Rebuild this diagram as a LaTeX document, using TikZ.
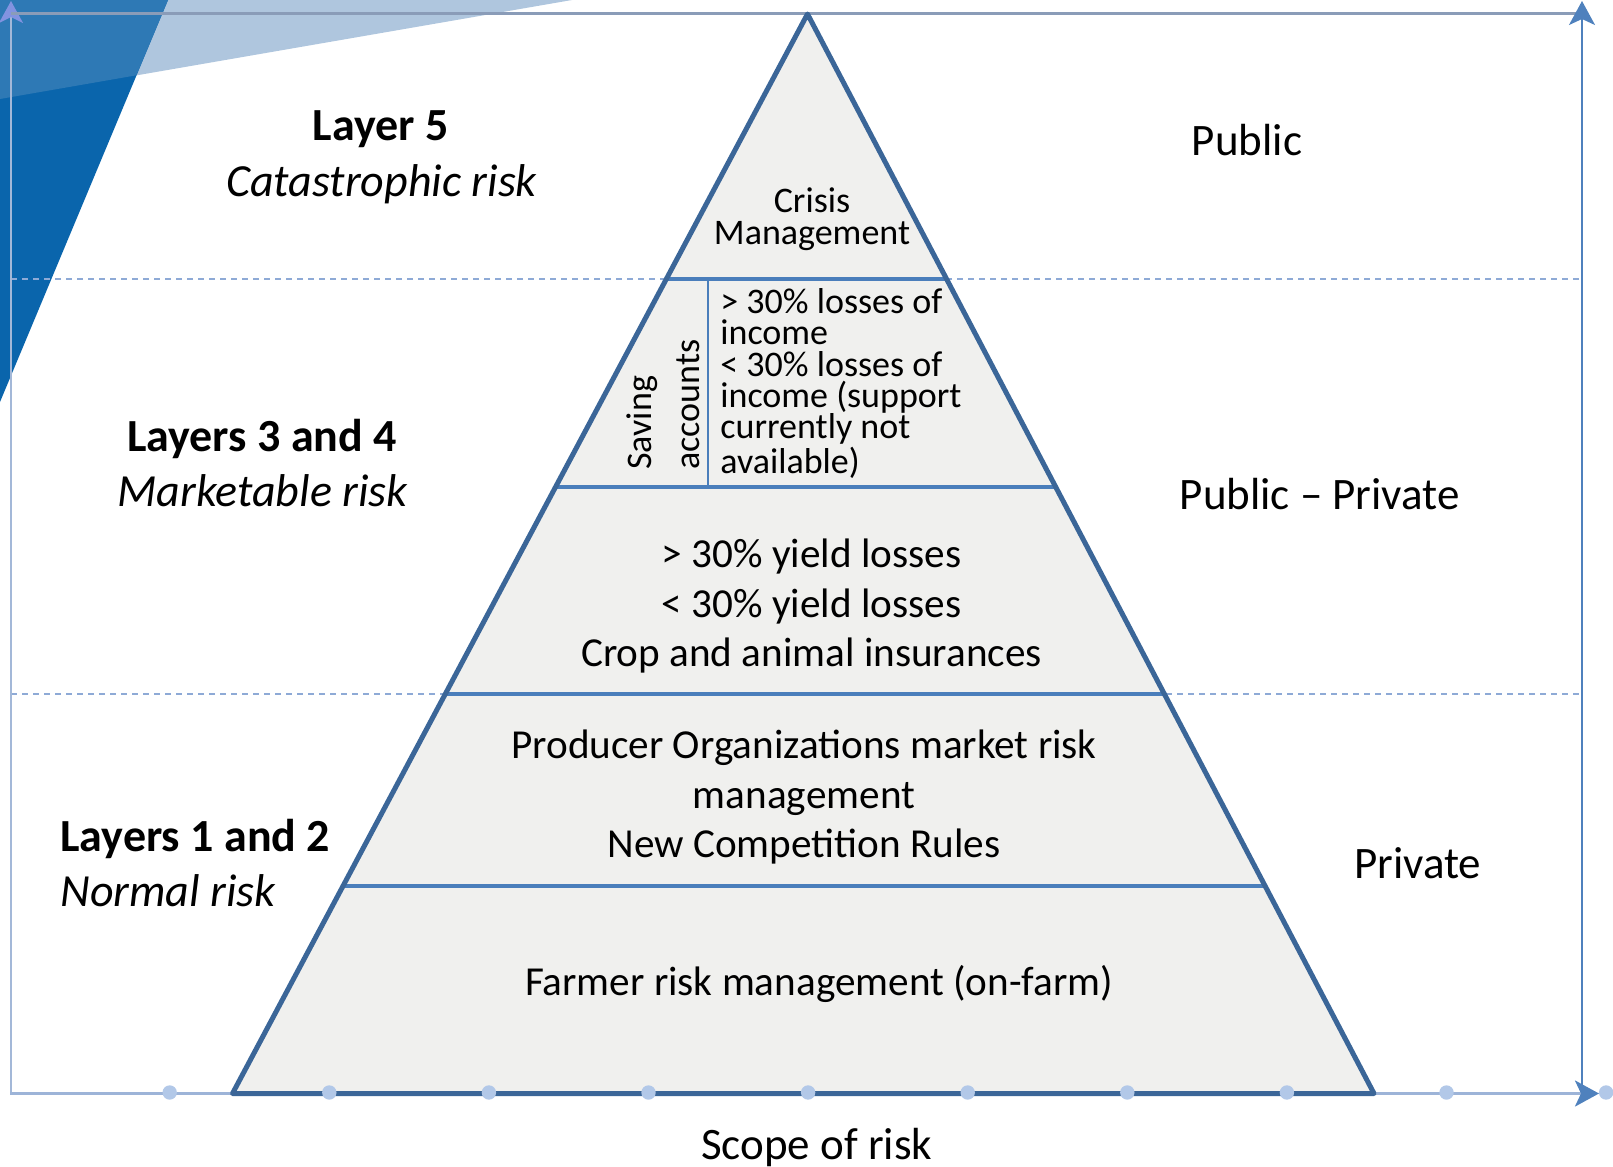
\documentclass[tikz,border=0pt]{standalone}
\usepackage{fontspec}
\setmainfont{Carlito}
\usetikzlibrary{arrows.meta,calc}
\definecolor{darkb}{HTML}{0A65AC}
\definecolor{midb}{HTML}{2E79B5}
\definecolor{lightb}{HTML}{AFC6DE}
\definecolor{pyrfill}{HTML}{F0F0EE}
\definecolor{pyrline}{HTML}{3B6698}
\definecolor{sepline}{HTML}{4A7EBB}
\definecolor{dashc}{HTML}{8EAAD6}
\definecolor{axisc}{HTML}{9DB4D8}
\definecolor{framec}{HTML}{A3B8D8}
\definecolor{rightax}{HTML}{4F81BD}
\definecolor{dotc}{HTML}{B2C8E8}
\tikzset{
  sidebold/.style={font=\fontsize{23}{28}\selectfont\bfseries, inner sep=0pt, anchor=base},
  sideit/.style={font=\fontsize{23}{28}\selectfont\itshape, inner sep=0pt, anchor=base},
  sector/.style={font=\fontsize{22.5}{26}\selectfont, inner sep=0pt, anchor=base},
  pyrtxt/.style={font=\fontsize{20.6}{24.8}\selectfont, inner sep=0pt, anchor=base, align=center},
  smalltxt/.style={font=\fontsize{18}{15.7}\selectfont, inner sep=0pt, anchor=base west, align=left},
  crisistxt/.style={font=\fontsize{18}{16}\selectfont, inner sep=0pt, anchor=base, align=center},
  dashline/.style={draw=dashc, line width=1pt, dash pattern=on 3pt off 2.5pt},
  sepl/.style={draw=sepline, line width=2pt},
  axtip/.style={-{Stealth[length=12pt,width=13pt,inset=3pt,color=rightax]}}
}
\begin{document}
\begin{tikzpicture}[x=0.5pt,y=-0.5pt]
\useasboundingbox (0,0) rectangle (1613,1167);
% background decoration
\fill[lightb] (0,0) -- (572,0) -- (0,99) -- cycle;
\fill[darkb] (0,0) -- (168,0) -- (0,402) -- cycle;
\fill[midb] (0,0) -- (168,0) -- (136.4,75.3) -- (0,99) -- cycle;

% coordinates
\coordinate (apex) at (807.5,14);
\coordinate (bl) at (232.5,1093.5);
\coordinate (br) at (1374,1093.5);
\coordinate (axL) at (10,1093.5);
\coordinate (axR) at (1599,1093.5);
\coordinate (topL) at (11,13.4);
\coordinate (topR) at (1582,13.4);
\coordinate (lvB) at (11,1093.5);
\coordinate (lvT) at (11,1);
\coordinate (rvB) at (1582,1093.5);
\coordinate (rvT) at (1582,1);
\coordinate (d1L) at (11,278.8);
\coordinate (d1R) at (1582,278.8);
\coordinate (d2L) at (11,694.4);
\coordinate (d2R) at (1582,694.4);

% dashed lines
\draw[dashline] (d1L) -- (d1R);
\draw[dashline] (d2L) -- (d2R);

% frame
\draw[framec, line width=1.1pt, -{Stealth[length=11pt,width=12pt,inset=3pt,color=framec!80!blue]}] (lvB) -- (lvT);
\draw[framec!85!black, line width=1.1pt] (topL) -- (topR);
\draw[rightax, line width=0.9pt, axtip] (rvB) -- (rvT);
\draw[axisc, line width=1.5pt, axtip] (axL) -- (axR);

% pyramid
\fill[pyrfill] (apex) -- (bl) -- (br) -- cycle;
\draw[sepl] ($(apex)!0.2453!(bl)$) -- ($(apex)!0.2453!(br)$);
\draw[sepl] ($(apex)!0.4378!(bl)$) -- ($(apex)!0.4378!(br)$);
\draw[sepl] ($(apex)!0.6303!(bl)$) -- ($(apex)!0.6303!(br)$);
\draw[sepl] ($(apex)!0.8075!(bl)$) -- ($(apex)!0.8075!(br)$);
\coordinate (vdT) at (707.7,278.8);
\coordinate (vdB) at (707.7,486.6);
\draw[sepline, line width=0.8pt] (vdT) -- (vdB);
\draw[pyrline, line width=2.5pt, line join=round] (apex) -- (bl) -- (br) -- cycle;

% dots on axis
\foreach \k in {0,...,9} \fill[dotc] (169.7+159.6*\k,1092.5) circle[radius=3.6pt];

% left labels
\node[sidebold] (l5) at (380.6,140) {Layer 5};
\node[sideit] (l5b) at (381.6,196) {Catastrophic risk};
\node[sidebold] (l34) at (262,451) {Layers 3 and 4};
\node[sideit] (l34b) at (262.5,506) {Marketable risk};
\node[sidebold, anchor=base west] (l12) at (60,851) {Layers 1 and 2};
\node[sideit, anchor=base west] (l12b) at (60,906) {Normal risk};

% right labels
\node[sector] (pub) at (1247,155) {Public};
\node[sector] (pubpriv) at (1319.8,509) {Public – Private};
\node[sector] (priv) at (1417.6,878) {Private};
\node[sector] (scope) at (816.8,1159) {Scope of risk};

% pyramid texts (base anchor = last line's baseline)
\node[crisistxt] (cr) at (812,244) {Crisis\\Management};
\node[smalltxt, rotate=90, font=\fontsize{18}{24}\selectfont] (sav) at (699,470) {Saving\\accounts};
\node[smalltxt] (inc) at (720,473) {> 30\% losses of\\income\\< 30\% losses of\\income (support\\currently not\\available)};
\node[pyrtxt] (yl) at (811.6,666) {> 30\% yield losses\\[0.2pt]< 30\% yield losses\\[-0.3pt]Crop and animal insurances};
\node[pyrtxt] (po) at (804,857) {Producer Organizations market risk\\management\\[-0.3pt]New Competition Rules};
\node[pyrtxt] (f1) at (818.9,995) {Farmer risk management (on-farm)};
\end{tikzpicture}
\end{document}
